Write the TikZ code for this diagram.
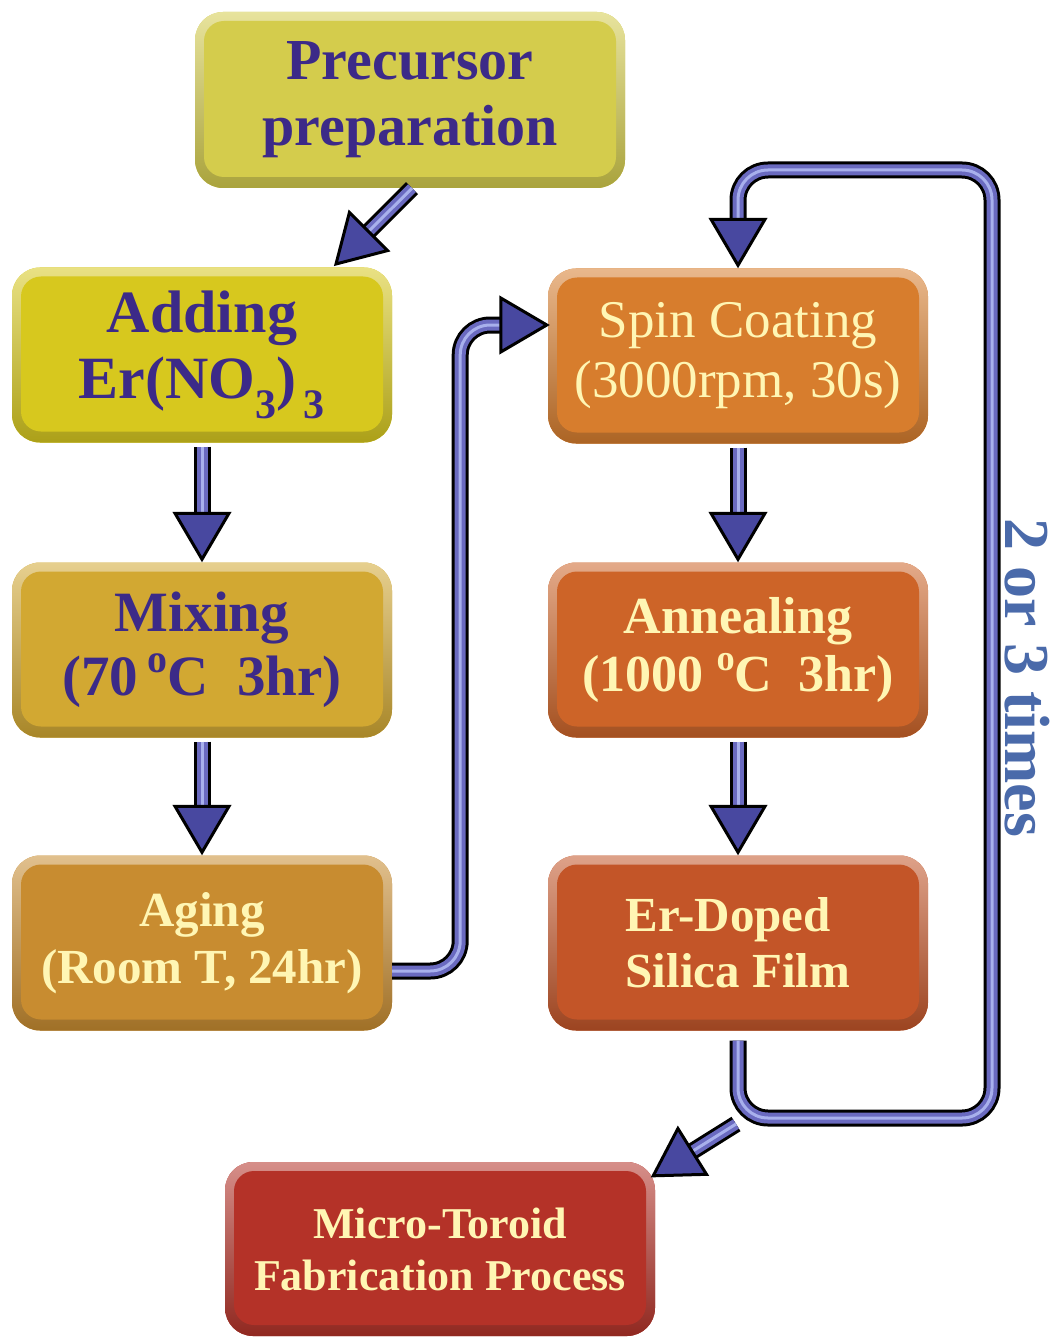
\documentclass[tikz,border=0pt]{standalone}
\usepackage{fontspec}
\setmainfont{Liberation Serif}
\usetikzlibrary{calc}

\definecolor{boxpre}{HTML}{D4CC4C}
\definecolor{boxadd}{HTML}{D7C81E}
\definecolor{boxmix}{HTML}{D2A832}
\definecolor{boxage}{HTML}{C88C30}
\definecolor{boxspin}{HTML}{D77D2D}
\definecolor{boxann}{HTML}{CD6428}
\definecolor{boxfilm}{HTML}{C35528}
\definecolor{boxmicro}{HTML}{B43228}
\definecolor{txtpurple}{HTML}{3C2A88}
\definecolor{txtcream}{HTML}{FFF6B4}
\definecolor{pipeblue}{HTML}{6A6AC0}
\definecolor{pipelight}{HTML}{A8B0EC}
\definecolor{headblue}{HTML}{4848A0}
\definecolor{timesblue}{HTML}{4A6AAA}

\newcommand{\degsup}{\raisebox{0.4em}{\scalebox{0.7}{o}}}

\tikzset{
  box/.style={rounded corners=28pt, minimum width=380pt, minimum height=175pt,
    inner sep=0pt, align=center, fill=#1,
    path picture={
      \shade[top color=#1!55!white, bottom color=#1!80!black]
        (path picture bounding box.south west) rectangle (path picture bounding box.north east);
      \fill[#1, rounded corners=20pt]
        ([shift={(9pt,-9pt)}]path picture bounding box.north west) rectangle
        ([shift={(-9pt,11pt)}]path picture bounding box.south east);
    }},
  pipe/.style={line width=17pt, draw=black, rounded corners=30pt,
    postaction={draw=pipeblue, line width=11pt},
    postaction={draw=pipelight, line width=3pt}},
  pics/tiphead/.style={code={
    \filldraw[fill=headblue, draw=black, line width=3pt] (0,0) -- (-46,27) -- (-46,-27) -- cycle;
  }},
}

\begin{document}
\begin{tikzpicture}[x=1pt,y=-1pt]
  \fill[white] (0,0) rectangle (1053,1337);
  \useasboundingbox (0,0) rectangle (1053,1337);

  % left column
  \node[box=boxpre, minimum width=430pt, minimum height=176pt, text=txtpurple,
    font=\bfseries\fontsize{58}{66}\selectfont] (pre) at (410,100) {Precursor\\preparation};
  \node[box=boxadd, text=txtpurple, font=\bfseries\fontsize{60}{66}\selectfont]
    (add) at (202,355) {Adding\\Er(NO\textsubscript{3})\textsubscript{\,3}};
  \node[box=boxmix, text=txtpurple, font=\bfseries\fontsize{57}{64}\selectfont]
    (mix) at (202,650) {Mixing\\(70\,\degsup C\ \ 3hr)};
  \node[box=boxage, text=txtcream, font=\bfseries\fontsize{49}{57}\selectfont]
    (age) at (202,943) {Aging\\(Room T, 24hr)};

  % right column
  \node[box=boxspin, text=txtcream, font=\fontsize{53}{60}\selectfont]
    (spin) at (738,356) {Spin Coating\\(3000rpm, 30s)};
  \node[box=boxann, text=txtcream, font=\bfseries\fontsize{52}{58}\selectfont]
    (ann) at (738,650) {Annealing\\(1000 \degsup C\ \ 3hr)};
  \node[box=boxfilm, text=txtcream, font=\bfseries\fontsize{49}{56}\selectfont, align=left]
    (film) at (738,943) {Er-Doped\\Silica Film};
  \node[box=boxmicro, minimum width=430pt, minimum height=174pt, text=txtcream,
    font=\bfseries\fontsize{44}{52}\selectfont] (micro) at (440,1249) {Micro-Toroid\\Fabrication Process};

  \node[rotate=-90, text=timesblue, font=\bfseries\fontsize{64}{64}\selectfont]
    (times) at (1027,678) {2 or 3 times};

  % connectors
  \coordinate (t1) at (336,264);
  \draw[pipe] ([xshift=2pt]pre.south) -- ($(t1)+(26,-26)$);
  \pic[rotate=225] at (t1) {tiphead};

  \draw[pipe] ([yshift=-4pt]add.south) -- ([yshift=40pt]mix.north);
  \pic[rotate=270] at ([yshift=3pt]mix.north) {tiphead};
  \draw[pipe] ([yshift=-4pt]mix.south) -- ([yshift=40pt]age.north);
  \pic[rotate=270] at ([yshift=3pt]age.north) {tiphead};
  \draw[pipe] ([yshift=-4pt]spin.south) -- ([yshift=40pt]ann.north);
  \pic[rotate=270] at ([yshift=3pt]ann.north) {tiphead};
  \draw[pipe] ([yshift=-4pt]ann.south) -- ([yshift=40pt]film.north);
  \pic[rotate=270] at ([yshift=3pt]film.north) {tiphead};

  \coordinate (t6) at ($(spin.west)+(-1,-31)$);
  \draw[pipe] ([yshift=-28pt]age.east) -- ++(68,0) |- ($(t6)+(-38,0)$);
  \pic at (t6) {tiphead};

  % loop back
  \coordinate (corner) at (738,1118);
  \coordinate (t7) at ([yshift=3pt]spin.north);
  \draw[pipe] ([yshift=-10pt]film.south) -- (corner) -- (992,1118) -- (992,170)
    -- (738,170) -- ($(t7)+(0,-38)$);
  \pic[rotate=270] at (t7) {tiphead};

  \coordinate (t8) at ([shift={(-2pt,-14pt)}]micro.north east);
  \draw[pipe] ([shift={(-2pt,-6pt)}]corner) -- ($(t8)+(32,-20)$);
  \pic[rotate=212] at (t8) {tiphead};
\end{tikzpicture}
\end{document}
